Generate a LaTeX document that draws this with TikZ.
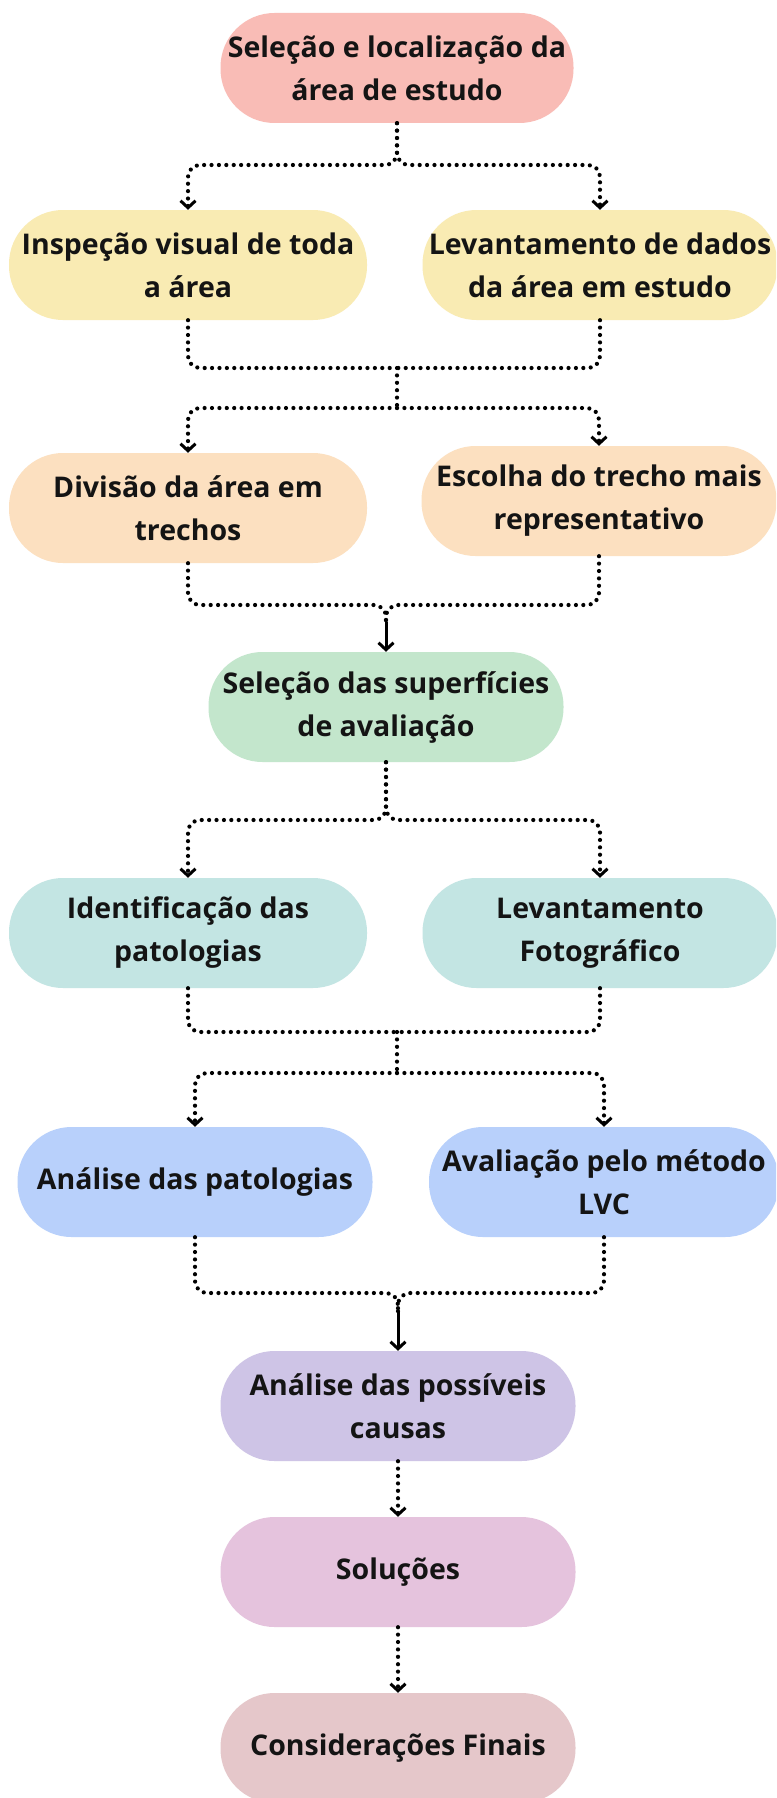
\documentclass[tikz,border=0pt]{standalone}
\usepackage{fontspec}
\setmainfont{Open Sans}
\usetikzlibrary{arrows.meta}
\definecolor{cPink}{HTML}{F9BCB6}
\definecolor{cYellow}{HTML}{F9EBB3}
\definecolor{cOrange}{HTML}{FCE0C0}
\definecolor{cGreen}{HTML}{C3E6CC}
\definecolor{cTeal}{HTML}{C3E5E3}
\definecolor{cBlue}{HTML}{B8D0FB}
\definecolor{cPurple}{HTML}{CEC4E6}
\definecolor{cMagenta}{HTML}{E5C3DD}
\definecolor{cRose}{HTML}{E5C7CA}
\begin{document}
\begin{tikzpicture}[x=1pt,y=-1pt,
 pill/.style={rectangle, rounded corners=54pt, minimum width=355pt, minimum height=110pt, inner sep=0pt, align=center, font=\fontsize{28.5}{43}\selectfont\bfseries, text=black!92},
 conn/.style={line width=4.2pt, line cap=round, dash pattern=on 0pt off 7.4pt, rounded corners=12pt},
 tip/.style={-{Straight Barb[length=7pt,width=15pt,line width=3pt]}},
 solidarrow/.style={line width=3pt, -{Straight Barb[length=7pt,width=15pt]}}
]
\useasboundingbox (0,0) rectangle (776,1798);
\fill[white] (0,0) rectangle (776,1798);
\clip (0,0) rectangle (776,1798);

\node[pill, fill=cPink, minimum width=353pt] (n1) at (397,68) {Seleção e localização da\\área de estudo};
\node[pill, fill=cYellow, minimum width=358pt] (a1) at (188,265) {Inspeção visual de toda\\a área};
\node[pill, fill=cYellow] (a2) at (600,265) {Levantamento de dados\\da área em estudo};
\node[pill, fill=cOrange, minimum width=358pt] (b1) at (188,508) {Divisão da área em\\trechos};
\node[pill, fill=cOrange] (b2) at (599,501) {Escolha do trecho mais\\representativo};
\node[pill, fill=cGreen] (c) at (386,707) {Seleção das superfícies\\de avaliação};
\node[pill, fill=cTeal, minimum width=358pt] (d1) at (188,933) {Identificação das\\patologias};
\node[pill, fill=cTeal] (d2) at (600,933) {Levantamento\\Fotográfico};
\node[pill, fill=cBlue] (e1) at (195,1182) {Análise das patologias};
\node[pill, fill=cBlue, minimum width=350pt] (e2) at (604,1182) {Avaliação pelo método\\LVC};
\node[pill, fill=cPurple] (f) at (398,1406) {Análise das possíveis\\causas};
\node[pill, fill=cMagenta] (g) at (398,1572) {Soluções};
\node[pill, fill=cRose] (h) at (398,1748) {Considerações Finais};

% split from first node
\coordinate (k1) at (397,165);
\draw[conn,tip] (n1.south) -- (k1) -- (k1 -| a1) -- (a1.north);
\draw[conn,tip] (n1.south) -- (k1) -- (k1 -| a2) -- (a2.north);

% join row 2, split to row 3
\coordinate (j1) at (397,368);
\coordinate (s1) at (397,408);
\draw[conn] (a1.south) -- (a1.south |- j1) -- (j1);
\draw[conn] (a2.south) -- (a2.south |- j1) -- (j1);
\draw[conn] (j1) -- (s1);
\draw[conn,tip] (s1) -- (s1 -| b1) -- (b1.north);
\draw[conn,tip] (s1) -- (s1 -| b2) -- (b2.north);

% join row 3 into green
\coordinate (y1) at (386,605);
\coordinate (y1b) at (386,622);
\draw[conn] (b1.south) -- (b1.south |- y1) -- (y1) -- (y1b);
\draw[conn] (b2.south) -- (b2.south |- y1) -- (y1) -- (y1b);
\draw[solidarrow] (y1b) -- (c.north);

% split from green
\coordinate (k2) at (386,820);
\draw[conn,tip] (c.south) -- (k2) -- (k2 -| d1) -- (d1.north);
\draw[conn,tip] (c.south) -- (k2) -- (k2 -| d2) -- (d2.north);

% join teal row, split to blue row
\coordinate (j2) at (397,1032);
\coordinate (s2) at (397,1073);
\draw[conn] (d1.south) -- (d1.south |- j2) -- (j2);
\draw[conn] (d2.south) -- (d2.south |- j2) -- (j2);
\draw[conn] (j2) -- (s2);
\draw[conn,tip] (s2) -- (s2 -| e1) -- (e1.north);
\draw[conn,tip] (s2) -- (s2 -| e2) -- (e2.north);

% join blue row into purple
\coordinate (y2) at (398,1293);
\coordinate (y2b) at (398,1312);
\draw[conn] (e1.south) -- (e1.south |- y2) -- (y2) -- (y2b);
\draw[conn] (e2.south) -- (e2.south |- y2) -- (y2) -- (y2b);
\draw[solidarrow] (y2b) -- (f.north);

% linear chain
\draw[conn,tip] (f.south) -- (g.north);
\draw[conn,tip] (g.south) -- (h.north);
\end{tikzpicture}
\end{document}
